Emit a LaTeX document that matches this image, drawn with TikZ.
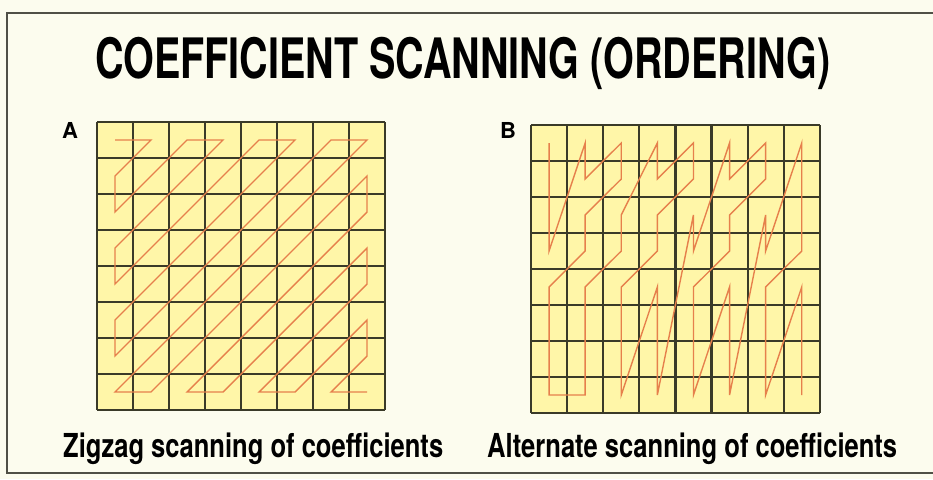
\documentclass[tikz,border=0pt]{standalone}
\usepackage{fontspec}
\setmainfont{TeX Gyre Heros}
\usepackage{graphicx}
\definecolor{bgc}{RGB}{252,252,238}
\definecolor{cellc}{RGB}{255,246,168}
\definecolor{gridc}{RGB}{58,58,40}
\definecolor{pathc}{RGB}{230,128,76}
\definecolor{framec}{RGB}{80,80,70}
\tikzset{
  gridline/.style={draw=gridc, line width=2.2pt},
  scanpath/.style={draw=pathc, line width=1.4pt, line join=miter},
  framel/.style={draw=framec, line width=2pt},
  txt/.style={inner sep=0pt, anchor=base west, text=black}
}
\newcommand{\cellgrid}{%
  \fill[cellc] (0,0) rectangle (8,8);
  \foreach \i in {0,...,8} {
    \draw[gridline] (\i,0) -- (\i,8);
    \draw[gridline] (0,\i) -- (8,\i);
  }%
}
\begin{document}
\begin{tikzpicture}[x=1pt,y=-1pt]
\useasboundingbox (0,0) rectangle (933,479);
\fill[bgc] (0,0) rectangle (933,479);
% frame
\draw[framel] (933,13) -- (7,13) -- (7,473) -- (933,473);
% title
\node[txt] (title) at (95,78) {\resizebox{735pt}{\height}{\fontsize{55.7}{60}\selectfont\bfseries COEFFICIENT SCANNING (ORDERING)}};
% panel letters
\node[txt] (la) at (62,138) {\fontsize{22}{24}\selectfont\bfseries A};
\node[txt] (lb) at (500,138) {\fontsize{22}{24}\selectfont\bfseries B};
% grid A
\begin{scope}[shift={(97,122)}, x=36pt, y=-36pt]
  \cellgrid
  \begin{scope}[shift={(0.5,0.5)}]
  \draw[scanpath] plot coordinates {(0,0) (1,0) (0,1) (0,2) (1,1) (2,0) (3,0) (2,1) (1,2) (0,3) (0,4) (1,3) (2,2) (3,1) (4,0) (5,0) (4,1) (3,2) (2,3) (1,4) (0,5) (0,6) (1,5) (2,4) (3,3) (4,2) (5,1) (6,0) (7,0) (6,1) (5,2) (4,3) (3,4) (2,5) (1,6) (0,7) (1,7) (2,6) (3,5) (4,4) (5,3) (6,2) (7,1) (7,2) (6,3) (5,4) (4,5) (3,6) (2,7) (3,7) (4,6) (5,5) (6,4) (7,3) (7,4) (6,5) (5,6) (4,7) (5,7) (6,6) (7,5) (7,6) (6,7) (7,7)};
  \end{scope}
\end{scope}
% grid B
\begin{scope}[shift={(531,125)}, x=36.1pt, y=-36pt]
  \cellgrid
  \begin{scope}[shift={(0.5,0.5)}]
  \draw[scanpath] plot coordinates {(0,0) (0,1) (0,2) (0,3) (1,0) (1,1) (2,0) (2,1) (1,2) (1,3) (0,4) (0,5) (0,6) (0,7) (1,7) (1,6) (1,5) (1,4) (2,3) (2,2) (3,0) (3,1) (4,0) (4,1) (3,2) (3,3) (2,4) (2,5) (2,6) (2,7) (3,4) (3,5) (3,6) (3,7) (4,2) (4,3) (5,0) (5,1) (6,0) (6,1) (5,2) (5,3) (4,4) (4,5) (4,6) (4,7) (5,4) (5,5) (5,6) (5,7) (6,2) (6,3) (7,0) (7,1) (7,2) (7,3) (6,4) (6,5) (6,6) (6,7) (7,4) (7,5) (7,6) (7,7)};
  \end{scope}
\end{scope}
% captions
\node[txt] (capa) at (63,457) {\resizebox{380pt}{\height}{\fontsize{33}{36}\selectfont\bfseries Zigzag scanning of coefficients}};
\node[txt] (capb) at (487,457) {\resizebox{410pt}{\height}{\fontsize{33}{36}\selectfont\bfseries Alternate scanning of coefficients}};
\end{tikzpicture}
\end{document}
